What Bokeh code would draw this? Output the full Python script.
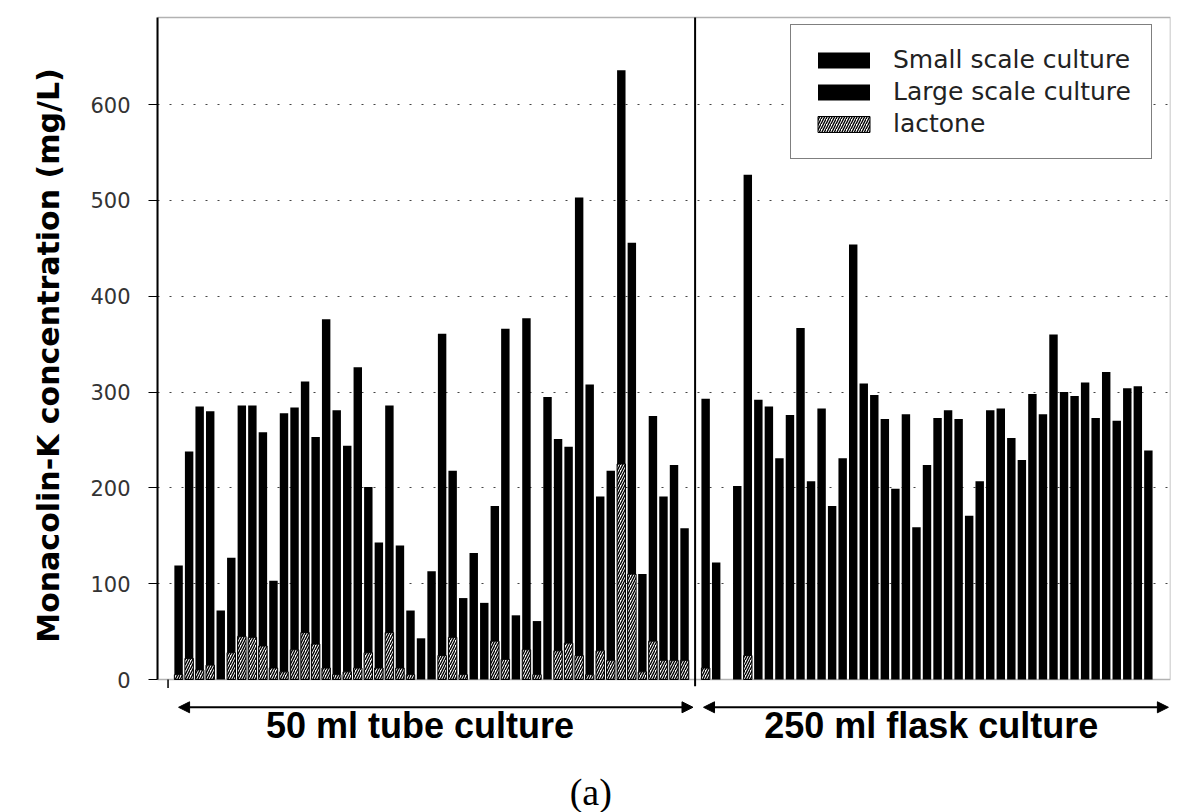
import numpy as np
from bokeh.plotting import figure
from bokeh.layouts import column
from bokeh.models import (FixedTicker, Label, Arrow, NormalHead, Legend,
                          LegendItem, BoxAnnotation, Range1d)
from bokeh.embed import file_html
from bokeh.resources import INLINE

# ---------------- data ----------------
tube_values = [119, 238, 285, 280, 72, 127, 286, 286, 258, 103, 278, 284, 311, 253,
               376, 281, 244, 326, 201, 143, 286, 140, 72, 43, 113, 361, 218, 85,
               132, 80, 181, 366, 67, 377, 61, 295, 251, 243, 503, 308, 191, 218,
               636, 456, 110, 275, 191, 224, 158]
tube_lactone = [5, 22, 10, 15, 0, 28, 45, 44, 35, 12, 8, 31, 49, 37, 12, 5, 8, 12,
                28, 12, 49, 12, 5, 0, 0, 25, 44, 5, 0, 0, 40, 21, 0, 31, 5, 0, 30,
                38, 25, 5, 30, 20, 225, 110, 8, 40, 20, 20, 20]
flask_values = [293, 122, 0, 202, 527, 292, 285, 231, 276, 367, 207, 283, 181, 231,
                454, 309, 297, 272, 199, 277, 159, 224, 273, 281, 272, 171, 207, 281,
                283, 252, 229, 298, 277, 360, 300, 296, 310, 273, 321, 270, 304, 306,
                239]
flask_lactone = [12, 0, 0, 0, 25, 0, 0, 0, 0, 0, 0, 0, 0, 0, 0, 0, 0, 0, 0, 0, 0, 0,
                 0, 0, 0, 0, 0, 0, 0, 0, 0, 0, 0, 0, 0, 0, 0, 0, 0, 0, 0, 0, 0]
y_ticks = [0, 100, 200, 300, 400, 500, 600]
legend_labels = ["Small scale culture", "Large scale culture", "lactone"]
section_labels = ["50 ml tube culture", "250 ml flask culture"]
y_label = "Monacolin-K concentration (mg/L)"
panel_label = "(a)"

# ---------------- positions ----------------
n_tube = len(tube_values)
n_flask = len(flask_values)
tube_x = np.arange(n_tube)
divider = n_tube
flask_x = divider + 1 + np.arange(n_flask)
all_x = np.concatenate([tube_x, flask_x])
all_lac = np.array(tube_lactone + flask_lactone)
mask = all_lac > 0

X0, X1 = -2, 94.1
Y_BOX = 691          # top of the drawn plot box
Y_TOP = 693.1
Y_MID = -16.7        # boundary between chart panel and caption panel
Y_BOT = -138.8

xr = Range1d(X0, X1)

# ---------------- main chart ----------------
p = figure(width=1183, height=695, x_range=xr, y_range=(Y_MID, Y_TOP),
           output_backend="svg", toolbar_location=None, x_axis_location=None,
           min_border_left=157, min_border_right=13, min_border_top=15,
           min_border_bottom=0)
p.background_fill_color = "white"
p.border_fill_color = "white"
p.outline_line_color = None

BW = 0.8
r_small = p.vbar(x=tube_x, top=tube_values, width=BW, fill_color="black",
                 line_color=None)
r_large = p.vbar(x=flask_x, top=flask_values, width=BW, fill_color="black",
                 line_color=None)
r_lac = p.vbar(x=all_x[mask], top=all_lac[mask], width=BW, fill_color="white",
               line_color="black", line_width=1, hatch_pattern="/",
               hatch_color="black", hatch_scale=5, hatch_weight=1.4)

p.add_layout(BoxAnnotation(left=X0, right=X1, bottom=0, top=Y_BOX, fill_alpha=0,
                           line_color="black", line_width=1.5, level="overlay"))

p.xgrid.visible = False
p.ygrid.ticker = FixedTicker(ticks=y_ticks[1:])
p.ygrid.grid_line_color = "#444444"
p.ygrid.grid_line_dash = "2 10"
p.ygrid.grid_line_width = 1.2

p.yaxis.bounds = (0, Y_BOX)
p.yaxis.ticker = FixedTicker(ticks=y_ticks)
p.yaxis.minor_tick_line_color = None
p.yaxis.major_tick_out = 9
p.yaxis.major_tick_in = 0
p.yaxis.axis_line_width = 2
p.yaxis.major_label_standoff = 18
p.yaxis.major_label_text_font = "DejaVu Sans"
p.yaxis.major_label_text_font_size = "21px"
p.yaxis.major_label_text_color = "#333333"
p.yaxis.axis_label = y_label
p.yaxis.axis_label_text_font = "DejaVu Sans"
p.yaxis.axis_label_text_font_style = "bold"
p.yaxis.axis_label_text_font_size = "30px"
p.yaxis.axis_label_text_color = "black"
p.yaxis.axis_label_standoff = 21

# divider and small tick marks below the axis
p.add_layout(Arrow(end=None, x_start=divider, y_start=-7, x_end=divider, y_end=Y_BOX,
                   line_color="black", line_width=2))
p.add_layout(Arrow(end=None, x_start=-1, y_start=-9, x_end=-1, y_end=0,
                   line_color="black", line_width=1.5))

legend = Legend(items=[LegendItem(label=legend_labels[0], renderers=[r_small]),
                       LegendItem(label=legend_labels[1], renderers=[r_large]),
                       LegendItem(label=legend_labels[2], renderers=[r_lac])],
                location=(633, 536), orientation="vertical")
legend.padding = 20
legend.spacing = 3
legend.margin = 0
legend.glyph_width = 65
legend.glyph_height = 20
legend.label_standoff = 17
legend.label_text_font = "DejaVu Sans"
legend.label_text_font_size = "25px"
legend.label_text_color = "#222222"
legend.border_line_color = "black"
legend.border_line_width = 1.5
legend.background_fill_color = "white"
legend.background_fill_alpha = 1.0
p.add_layout(legend)

# ---------------- caption panel ----------------
q = figure(width=1183, height=117, x_range=xr, y_range=(Y_BOT, Y_MID),
           output_backend="svg", toolbar_location=None, x_axis_location=None,
           y_axis_location=None, min_border_left=157, min_border_right=13,
           min_border_top=0, min_border_bottom=0)
q.outline_line_color = None
q.xgrid.visible = False
q.ygrid.visible = False
q.background_fill_color = "white"
q.border_fill_color = "white"

ay = -29
for xs, xe in [(tube_x[0], divider - 0.2), (divider + 0.8, flask_x[-1] + 1.9)]:
    q.add_layout(Arrow(start=NormalHead(size=11, fill_color="black", line_color="black"),
                       end=NormalHead(size=11, fill_color="black", line_color="black"),
                       x_start=xs, y_start=ay, x_end=xe, y_end=ay,
                       line_color="black", line_width=2))
for txt, xc in zip(section_labels, [22.9, 71.4]):
    q.add_layout(Label(x=xc, y=-48, text=txt, text_align="center",
                       text_baseline="middle", text_font="Liberation Sans",
                       text_font_style="bold", text_font_size="36px",
                       text_color="black"))
q.add_layout(Label(x=39.1, y=-117, text=panel_label, text_align="center",
                   text_baseline="middle", text_font="Liberation Serif",
                   text_font_size="38px", text_color="black"))

layout = column(p, q, spacing=0)
open("out.html", "w").write(file_html(layout, INLINE))
